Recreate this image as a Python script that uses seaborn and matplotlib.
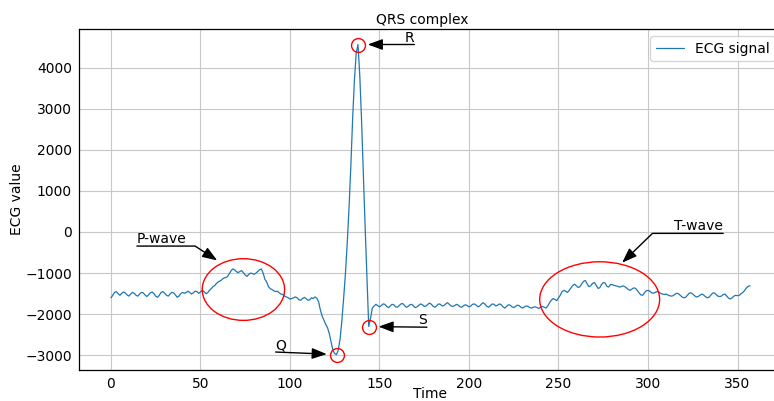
import matplotlib
matplotlib.use("Agg")
import matplotlib.pyplot as plt
import seaborn as sns
import pandas as pd
from matplotlib.patches import Ellipse

# ECG samples (one value per time step)
ecg = [
    -1600, -1540, -1470, -1450, -1500, -1540, -1490, -1460, -1480, -1530,
    -1560, -1510, -1470, -1490, -1540, -1560, -1510, -1470, -1480, -1530,
    -1570, -1530, -1480, -1460, -1500, -1560, -1590, -1540, -1470, -1450,
    -1490, -1540, -1560, -1510, -1470, -1480, -1530, -1590, -1560, -1500,
    -1470, -1490, -1470, -1440, -1470, -1510, -1480, -1440, -1450, -1490,
    -1460, -1420, -1450, -1500, -1480, -1420, -1380, -1330, -1300, -1250,
    -1210, -1190, -1160, -1120, -1110, -1090, -1020, -950, -900, -920,
    -960, -990, -960, -940, -990, -1050, -1080, -1030, -1000, -1010,
    -1030, -1000, -960, -920, -900, -1000, -1150, -1220, -1330, -1380,
    -1400, -1430, -1450, -1440, -1480, -1510, -1520, -1560, -1580, -1600,
    -1630, -1620, -1600, -1580, -1600, -1650, -1660, -1620, -1590, -1620,
    -1660, -1650, -1600, -1620, -1580, -1610, -1700, -1900, -2050, -2150,
    -2250, -2330, -2480, -2680, -2880, -2960, -2980, -2870, -2600, -2150,
    -1600, -1000, -250, 600, 1600, 2750, 3700, 4350, 4560, 3800,
    2700, 1400, 100, -1100, -2300, -2100, -1850, -1800, -1760, -1790,
    -1820, -1790, -1750, -1760, -1810, -1840, -1800, -1760, -1770, -1820,
    -1830, -1790, -1750, -1740, -1790, -1830, -1810, -1770, -1760, -1800,
    -1840, -1820, -1780, -1750, -1770, -1810, -1800, -1760, -1730, -1760,
    -1810, -1830, -1790, -1750, -1760, -1800, -1790, -1750, -1720, -1760,
    -1800, -1810, -1790, -1760, -1780, -1820, -1830, -1790, -1770, -1790,
    -1820, -1800, -1760, -1750, -1780, -1820, -1800, -1750, -1720, -1760,
    -1810, -1830, -1790, -1750, -1760, -1800, -1780, -1750, -1770, -1820,
    -1850, -1810, -1770, -1780, -1820, -1840, -1810, -1780, -1790, -1830,
    -1850, -1820, -1800, -1810, -1840, -1850, -1830, -1820, -1840, -1860,
    -1830, -1810, -1830, -1850, -1800, -1720, -1660, -1620, -1640, -1670,
    -1600, -1540, -1450, -1420, -1440, -1470, -1420, -1360, -1300, -1270,
    -1310, -1350, -1330, -1260, -1200, -1180, -1260, -1330, -1310, -1250,
    -1230, -1290, -1370, -1360, -1280, -1230, -1240, -1320, -1340, -1280,
    -1280, -1300, -1310, -1320, -1340, -1330, -1310, -1330, -1360, -1400,
    -1420, -1390, -1360, -1370, -1420, -1480, -1530, -1540, -1480, -1430,
    -1420, -1440, -1480, -1490, -1470, -1450, -1460, -1490, -1510, -1520,
    -1510, -1530, -1550, -1560, -1550, -1520, -1490, -1500, -1540, -1580,
    -1600, -1590, -1540, -1490, -1480, -1510, -1550, -1580, -1570, -1540,
    -1510, -1530, -1570, -1600, -1590, -1540, -1490, -1480, -1520, -1560,
    -1570, -1560, -1520, -1510, -1560, -1610, -1630, -1600, -1560, -1540,
    -1550, -1540, -1500, -1470, -1420, -1360, -1320, -1310,
]
time = list(range(len(ecg)))

x_ticks = [0, 50, 100, 150, 200, 250, 300, 350]
y_ticks = [-3000, -2000, -1000, 0, 1000, 2000, 3000, 4000]

# QRS points (indices into the signal)
peak_names = ["Q", "R", "S"]
peak_index = [126, 138, 144]

# P / T wave regions
wave_names = ["P-wave", "T-wave"]
wave_center_t = [74, 273]
wave_center_v = [-1400, -1640]
wave_width = [46, 67]
wave_height = [1500, 1830]

sns.set_style("whitegrid", {"axes.edgecolor": "black", "grid.color": "#c8c8c8",
                            "text.color": "black", "axes.labelcolor": "black",
                            "xtick.color": "black", "ytick.color": "black"})
plt.rcParams["font.family"] = ["DejaVu Sans"]
plt.rcParams["font.size"] = 10

fig = plt.figure(figsize=(7.74, 4.01), dpi=100)
ax = fig.add_axes([79 / 774, 31 / 401, 703 / 774, 341 / 401])

df = pd.DataFrame({"Time": time, "ECG value": ecg})
sns.lineplot(data=df, x="Time", y="ECG value", ax=ax, color="#1f77b4",
             linewidth=0.9, label="ECG signal")

ax.set_xticks(x_ticks)
ax.set_yticks(y_ticks)
ax.margins(x=0.05, y=0.05)
ax.tick_params(axis="both", pad=1.5)
for sp in ax.spines.values():
    sp.set_linewidth(0.9)

# circles around Q, R, S
px = [time[i] for i in peak_index]
pv = [ecg[i] for i in peak_index]
ax.plot(px, pv, linestyle="none", marker="o", markersize=10,
        markerfacecolor="none", markeredgecolor="red", markeredgewidth=1, zorder=4)

# ellipses around P and T waves
for ct, cv, w, h in zip(wave_center_t, wave_center_v, wave_width, wave_height):
    ax.add_patch(Ellipse((ct, cv), w, h, fill=False, edgecolor="red", lw=1, zorder=4))

arrow_style = "-|>,head_length=0.6,head_width=0.22"

def arrow(relpos, conn="arc3", shrinkB=2):
    return dict(arrowstyle=arrow_style, color="black", lw=1, relpos=relpos,
                patchA=None, shrinkA=0, shrinkB=shrinkB, mutation_scale=15,
                connectionstyle=conn)

# P-wave and T-wave labels
ax.annotate(wave_names[0], xy=(60, -710), xytext=(14.5, -343), ha="left", va="bottom",
            arrowprops=arrow((0, 0), "angle,angleA=0,angleB=147,rad=0", 1))
ax.annotate(wave_names[1], xy=(285, -770), xytext=(342, -34), ha="right", va="bottom",
            arrowprops=arrow((1, 0), "angle,angleA=0,angleB=44,rad=0", 1))

# Q, R, S labels
ax.annotate(peak_names[0], xy=(px[0], pv[0]), xytext=(92, -2920), ha="left", va="bottom",
            arrowprops=arrow((0, 0), shrinkB=7))
ax.annotate(peak_names[1], xy=(px[1], pv[1]), xytext=(169.5, 4560), ha="right", va="bottom",
            arrowprops=arrow((1, 0), shrinkB=7))
ax.annotate(peak_names[2], xy=(px[2], pv[2]), xytext=(176.5, -2316), ha="right", va="bottom",
            arrowprops=arrow((1, 0), shrinkB=7))

ax.text(174, 5070, "QRS complex", ha="center", va="baseline", fontsize=10)

ax.set_xlabel("Time", labelpad=-3)
ax.set_ylabel("ECG value", labelpad=1)
ax.legend(loc="upper right")

fig.savefig("out.png", dpi=100)
